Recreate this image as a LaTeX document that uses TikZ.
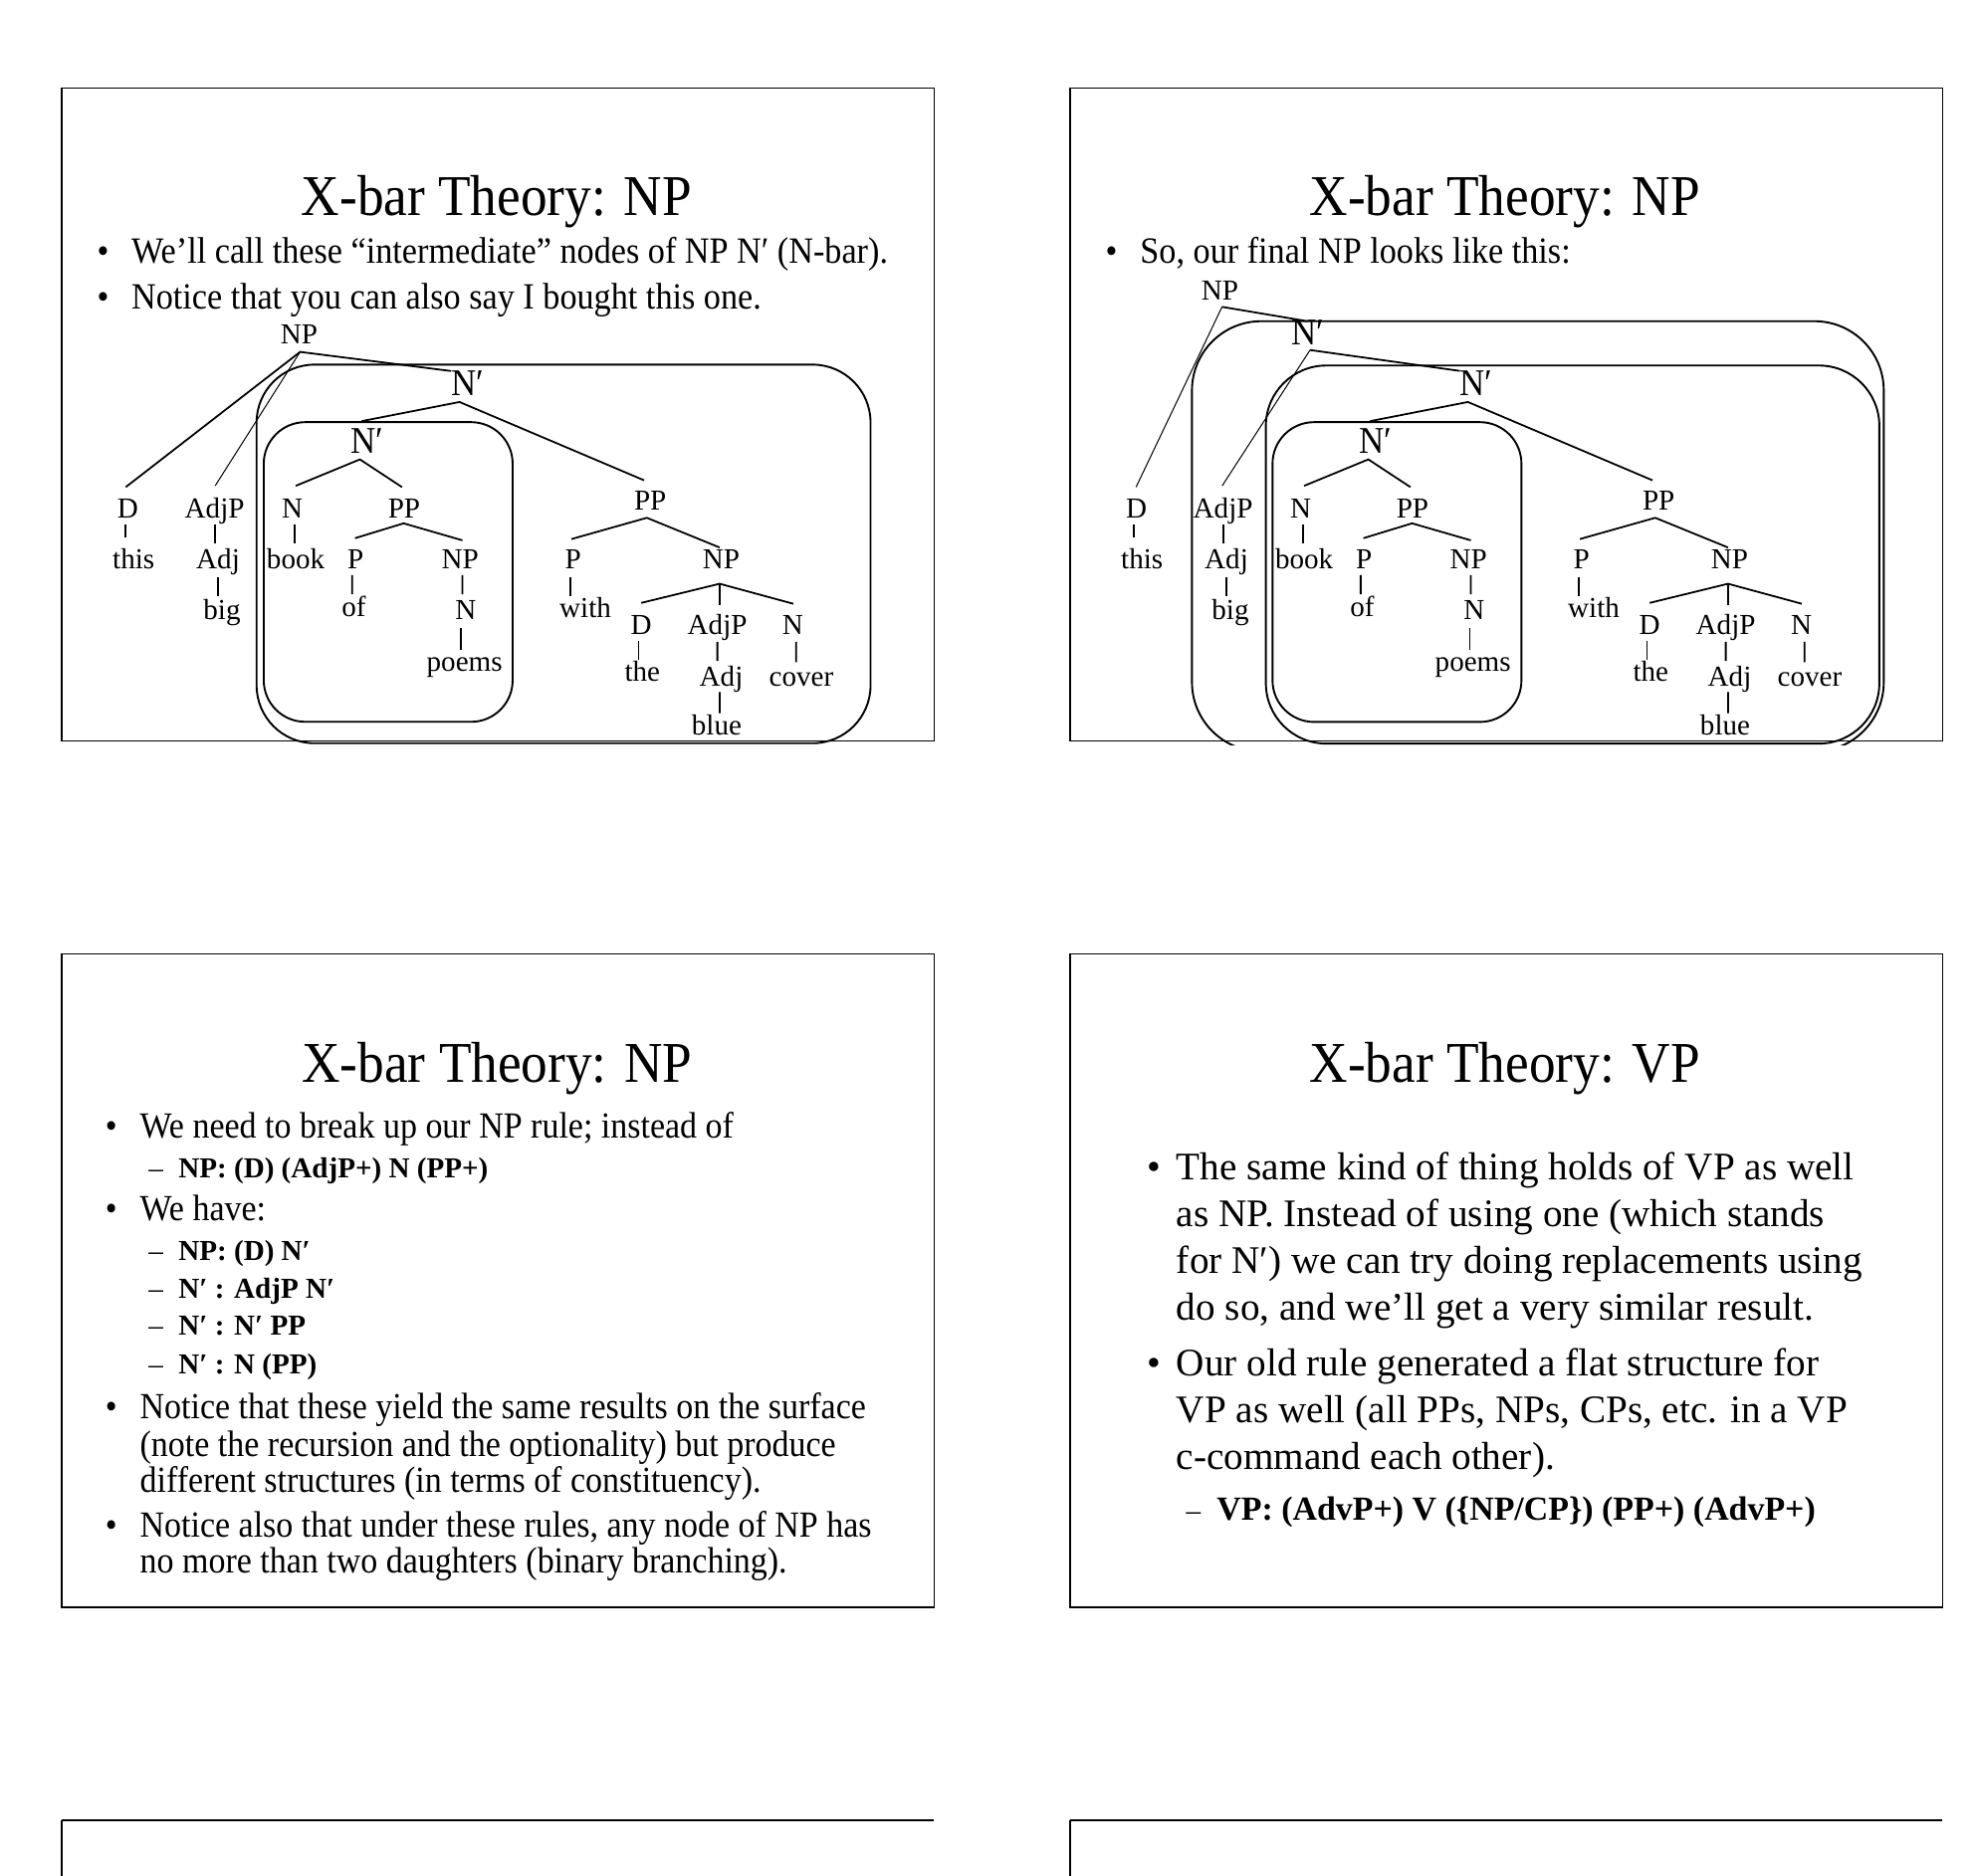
\documentclass[tikz,border=0pt]{standalone}
\usepackage{fontspec}
\setmainfont{Liberation Serif}
\newfontfamily\condfont{Liberation Serif}[FakeStretch=0.92]
\tikzset{
  slidebox/.style={draw, line width=0.9pt},
  ttl/.style={anchor=base, inner sep=0pt, font=\condfont\fontsize{45.8}{50}\selectfont},
  bul/.style={anchor=base west, inner sep=0pt, font=\condfont\fontsize{29}{32}\selectfont},
  btxt/.style={anchor=base west, inner sep=0pt, font=\condfont\fontsize{29.4}{32}\selectfont},
  mtxt/.style={anchor=base west, inner sep=0pt, font=\condfont\fontsize{29.2}{32}\selectfont},
  vtxt/.style={anchor=base west, inner sep=0pt, font=\fontsize{31}{34}\selectfont},
  rulebf/.style={anchor=base west, inner sep=0pt, font=\bfseries\fontsize{23}{26}\selectfont},
  vrulebf/.style={anchor=base west, inner sep=0pt, font=\bfseries\fontsize{26.8}{30}\selectfont},
  dsh/.style={anchor=base west, inner sep=0pt, font=\fontsize{23}{26}\selectfont},
  lab/.style={anchor=base, inner sep=0pt, font=\fontsize{23}{26}\selectfont},
  nbar/.style={anchor=base, inner sep=0pt, font=\condfont\fontsize{30}{32}\selectfont},
  tline/.style={line width=1.4pt},
  thinline/.style={line width=0.8pt},
  cbox/.style={draw, line width=1.5pt},
}
\newcommand\xbtree[1]{%
  \node[lab] (#1d) at (101.6,411.4) {D};
  \node[lab] (#1adjp) at (170.5,411.4) {AdjP};
  \node[nbar] (#1nb1) at (371.5,314) {N′};
  \node[nbar] (#1nb2) at (291.7,360) {N′};
  \node[lab] (#1n) at (232.2,411.4) {N};
  \node[lab] (#1ppa) at (321,411.4) {PP};
  \node[lab] (#1ppb) at (516.5,405.3) {PP};
  \node[lab] (#1this) at (106.1,452) {this};
  \node[lab] (#1adj) at (173.2,452) {Adj};
  \node[lab] (#1book) at (234.9,452) {book};
  \node[lab] (#1pa) at (282.4,452) {P};
  \node[lab] (#1npa) at (365.5,452) {NP};
  \node[lab] (#1pb) at (455.2,452) {P};
  \node[lab] (#1npb) at (572.9,452) {NP};
  \node[lab] (#1big) at (176.3,492.5) {big};
  \node[lab] (#1of) at (281,490) {of};
  \node[lab] (#1na) at (369.9,492.5) {N};
  \node[lab] (#1with) at (465,490.8) {with};
  \node[lab] (#1db) at (509.4,504.3) {D};
  \node[lab] (#1adjpb) at (569.8,504.3) {AdjP};
  \node[lab] (#1nbb) at (629.8,504.3) {N};
  \node[lab] (#1poems) at (369,533) {poems};
  \node[lab] (#1the) at (510.3,541.5) {the};
  \node[lab] (#1adjb) at (572.9,544.9) {Adj};
  \node[lab] (#1cover) at (636.5,544.9) {cover};
  \node[lab] (#1blue) at (569.3,583.8) {blue};
  \draw[tline] ([shift={(-4.4,-25.4)}]#1nb2.base) -- ([shift={(-6.5,5.4)}]#1nb1.base) -- ([shift={(-4.9,-23.7)}]#1ppb.base);
  \draw[tline] ([shift={(2.7,-25.4)}]#1n.base) -- ([shift={(-5.8,5)}]#1nb2.base) -- ([shift={(-1.7,-24.4)}]#1ppa.base);
  \draw[tline] ([shift={(-1.7,5.1)}]#1d.base) -- ([shift={(-6.2,-25.4)}]#1this.base);
  \draw[tline] ([shift={(0.4,5)}]#1adjp.base) -- ([shift={(-2.3,-20.4)}]#1adj.base);
  \draw[tline] ([shift={(1.8,5)}]#1n.base) -- ([shift={(-0.9,-20.4)}]#1book.base);
  \draw[tline] ([shift={(-0.4,-24.4)}]#1pa.base) -- ([shift={(-0.4,4.4)}]#1ppa.base) -- ([shift={(1.8,-22.7)}]#1npa.base);
  \draw[tline] ([shift={(0,6.6)}]#1adj.base) -- ([shift={(-3.1,-18.7)}]#1big.base);
  \draw[tline] ([shift={(-2.6,5)}]#1pa.base) -- ([shift={(-1.2,-17.9)}]#1of.base);
  \draw[tline] ([shift={(1.8,5)}]#1npa.base) -- ([shift={(-2.6,-20.4)}]#1na.base);
  \draw[tline] ([shift={(-3.5,6.7)}]#1na.base) -- ([shift={(-2.6,-17)}]#1poems.base);
  \draw[tline] ([shift={(-1.3,-23.7)}]#1pb.base) -- ([shift={(-2.7,6.1)}]#1ppb.base) -- ([shift={(-1.3,-17)}]#1npb.base);
  \draw[tline] ([shift={(-2.2,6.7)}]#1pb.base) -- ([shift={(-12,-16.8)}]#1with.base);
  \draw[tline] ([shift={(0,-25.3)}]#1db.base) -- ([shift={(-1.3,11.8)}]#1npb.base) -- ([shift={(0.4,-24.6)}]#1nbb.base);
  \draw[tline] ([shift={(-1.3,11.8)}]#1npb.base) -- ([shift={(1.8,-23.6)}]#1adjpb.base);
  \draw[tline] ([shift={(-2.2,5)}]#1db.base) -- ([shift={(-3.1,-17)}]#1the.base);
  \draw[tline] ([shift={(0,5.7)}]#1adjpb.base) -- ([shift={(-3.1,-19.7)}]#1adjb.base);
  \draw[tline] ([shift={(2.6,5.7)}]#1nbb.base) -- ([shift={(-4.1,-18.7)}]#1cover.base);
  \draw[tline] ([shift={(-1.3,4.9)}]#1adjb.base) -- ([shift={(2.3,-17.1)}]#1blue.base);
}
\begin{document}
\begin{tikzpicture}[x=1pt,y=-1pt]
\useasboundingbox[fill=white] (0,0) rectangle (1568,1490);

% ---------- slide frames ----------
\draw[slidebox] (49,70) rectangle (742,589);
\draw[slidebox] (850,70) rectangle (1543,589);
\draw[slidebox] (49,758) rectangle (742,1277);
\draw[slidebox] (850,758) rectangle (1543,1277);
\draw[line width=0.9pt] (49,1491) -- (49,1446);
\draw[line width=1.6pt] (49,1446) -- (742,1446);
\draw[line width=0.9pt] (850,1491) -- (850,1446);
\draw[line width=1.6pt] (850,1446) -- (1543,1446);

% ---------- slide 1 (top left) ----------
\node[ttl] (t1) at (394.5,171.5) {X-bar Theory: NP};
\node[bul] (t1b1) at (77,209.3) {•};
\node[btxt] (t1l1) at (104.3,209.3) {We’ll call these “intermediate” nodes of NP N′ (N-bar).};
\node[bul] (t1b2) at (77,245.8) {•};
\node[btxt] (t1l2) at (104.3,245.8) {Notice that you can also say I bought this one.};
\begin{scope}
  \clip (49,70) rectangle (742,591.6);
  \draw[cbox, rounded corners=46pt] (203.8,289.7) rectangle (691.5,590.5);
  \draw[cbox, rounded corners=33pt] (209.5,335.4) rectangle (407.2,573.5);
\end{scope}
\xbtree{a}
\node[lab] (anp) at (237.5,272.8) {NP};
\draw[tline] ([shift={(-1.7,-24.4)}]ad.base) -- ([shift={(0.9,6.8)}]anp.base) -- ([shift={(-13.1,-19.2)}]anb1.base);
\draw[thinline] ([shift={(0.9,6.8)}]anp.base) -- ([shift={(0.4,-25.4)}]aadjp.base);

% ---------- slide 2 (top right) ----------
\node[ttl] (t2) at (1195.4,171.5) {X-bar Theory: NP};
\node[bul] (t2b1) at (878,209.3) {•};
\node[btxt] (t2l1) at (905.5,209.3) {So, our final NP looks like this:};
\begin{scope}
  \clip (850,70) rectangle (1543,591.6);
  \draw[cbox, rounded corners=55pt] (946.8,255.2) rectangle (1496.3,597);
  \draw[cbox, rounded corners=48pt] (1005.5,290.4) rectangle (1492.8,590.8);
  \draw[cbox, rounded corners=33pt] (1010.8,335.4) rectangle (1208.5,573.6);
\end{scope}
\begin{scope}[shift={(801,0)}]
  \xbtree{b}
  \node[lab] (bnp) at (168,238.5) {NP};
  \node[nbar] (bnbt) at (238,274.1) {N′};
  \draw[thinline] ([shift={(1.7,5.3)}]bnp.base) -- ([shift={(-0.2,-24.4)}]bd.base);
  \draw[tline] ([shift={(1.7,5.3)}]bnp.base) -- ([shift={(-0.5,-18.9)}]bnbt.base);
  \draw[thinline] ([shift={(1.6,4)}]bnbt.base) -- ([shift={(-0.7,-25.4)}]badjp.base);
  \draw[tline] ([shift={(1.6,4)}]bnbt.base) -- ([shift={(-12.9,-19.3)}]bnb1.base);
\end{scope}

% ---------- slide 3 (middle left) ----------
\node[ttl] (t3) at (395,859.9) {X-bar Theory: NP};
\node[bul] (t3b1) at (83.5,903.8) {•};
\node[mtxt] (t3l1) at (111,903.8) {We need to break up our NP rule; instead of};
\node[dsh] (t3d1) at (118,935.9) {–};
\node[rulebf] (t3r1) at (141.6,935.9) {NP: (D) (AdjP+) N (PP+)};
\node[bul] (t3b2) at (83.5,969.7) {•};
\node[mtxt] (t3l2) at (111,969.7) {We have:};
\node[dsh] (t3d2) at (118,1001.8) {–};
\node[rulebf] (t3r2) at (141.6,1001.8) {NP: (D) N′};
\node[dsh] (t3d3) at (118,1031.5) {–};
\node[rulebf] (t3r3) at (141.6,1031.5) {N′ : AdjP N′};
\node[dsh] (t3d4) at (118,1060.9) {–};
\node[rulebf] (t3r4) at (141.6,1060.9) {N′ : N′ PP};
\node[dsh] (t3d5) at (118,1091.3) {–};
\node[rulebf] (t3r5) at (141.6,1091.3) {N′ : N (PP)};
\node[bul] (t3b3) at (83.5,1126.8) {•};
\node[mtxt] (t3l3) at (111,1126.8) {Notice that these yield the same results on the surface};
\node[mtxt] (t3l4) at (111,1157.2) {(note the recursion and the optionality) but produce};
\node[mtxt] (t3l5) at (111,1185.9) {different structures (in terms of constituency).};
\node[bul] (t3b4) at (83.5,1221.4) {•};
\node[mtxt] (t3l6) at (111,1221.4) {Notice also that under these rules, any node of NP has};
\node[mtxt] (t3l7) at (111,1250.1) {no more than two daughters (binary branching).};

% ---------- slide 4 (middle right) ----------
\node[ttl] (t4) at (1195.4,859.9) {X-bar Theory: VP};
\node[vtxt] (t4b1) at (911,937.6) {•};
\node[vtxt] (t4l1) at (934.4,937.6) {The same kind of thing holds of VP as well};
\node[vtxt] (t4l2) at (934.4,974.7) {as NP. Instead of using one (which stands};
\node[vtxt] (t4l3) at (934.4,1011.9) {for N′) we can try doing replacements using};
\node[vtxt] (t4l4) at (934.4,1049) {do so, and we’ll get a very similar result.};
\node[vtxt] (t4b2) at (911,1093) {•};
\node[vtxt] (t4l5) at (934.4,1093) {Our old rule generated a flat structure for};
\node[vtxt] (t4l6) at (934.4,1130.2) {VP as well (all PPs, NPs, CPs, etc. in a VP};
\node[vtxt] (t4l7) at (934.4,1167.3) {c-command each other).};
\node[dsh] (t4d1) at (942,1207.9) {–};
\node[vrulebf] (t4r1) at (966.4,1207.9) {VP: (AdvP+) V (\{NP/CP\}) (PP+) (AdvP+)};
\end{tikzpicture}
\end{document}
